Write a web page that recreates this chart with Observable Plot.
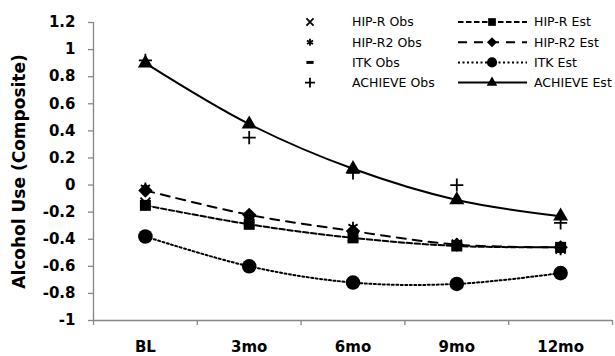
<!DOCTYPE html>
<html>
<head>
<meta charset="utf-8">
<script src="https://cdn.jsdelivr.net/npm/d3@7"></script>
<script src="https://cdn.jsdelivr.net/npm/@observablehq/plot@0.6"></script>
<style>
  html, body { margin: 0; padding: 0; background: #fff; }
  #chart { position: relative; width: 615px; height: 356px; }
  .tick-bold text { font-weight: bold; }
</style>
</head>
<body>
<div id="chart"></div>
<script>
const categories = ["BL", "3mo", "6mo", "9mo", "12mo"];
const yTicks = [-1, -0.8, -0.6, -0.4, -0.2, 0, 0.2, 0.4, 0.6, 0.8, 1, 1.2];

const hipREst   = [-0.15, -0.29, -0.39, -0.45, -0.46];
const hipRObs   = [-0.13, -0.27, -0.38, -0.44, -0.47];
const hipR2Est  = [-0.04, -0.22, -0.34, -0.44, -0.46];
const hipR2Obs  = [-0.02, -0.23, -0.31, -0.43, -0.48];
const itkEst    = [-0.38, -0.60, -0.72, -0.73, -0.65];
const itkObs    = [-0.38, -0.60, -0.72, -0.74, -0.65];
const achieveEst = [0.90, 0.45, 0.12, -0.11, -0.23];
const achieveObs = [0.92, 0.35, 0.09, 0.00, -0.28];

const obsLabels = ["HIP-R Obs", "HIP-R2 Obs", "ITK Obs", "ACHIEVE Obs"];
const estLabels = ["HIP-R Est", "HIP-R2 Est", "ITK Est", "ACHIEVE Est"];

const dashSymbol = {
  draw(context, size) {
    const r = Math.sqrt(size / Math.PI);
    context.moveTo(-r, 0);
    context.lineTo(r, 0);
  }
};

const series = [
  {est: hipREst, obs: hipRObs, dash: "5.5,2.5", estSym: "square", estR: 6.2, obsSym: "times", obsR: 4.6},
  {est: hipR2Est, obs: hipR2Obs, dash: "9,7", estSym: "diamond2", estR: 6.5, obsSym: "asterisk", obsR: 5},
  {est: itkEst, obs: itkObs, dash: "2,2.5", estSym: "circle", estR: 7.3, obsSym: dashSymbol, obsR: 4.5},
  {est: achieveEst, obs: achieveObs, dash: null, estSym: "triangle", estR: 5.6, obsSym: "plus", obsR: 4.3}
];

const rows = (arr, s, k) => arr.map((v, i) => ({s: k, cat: categories[i], v}));
const pos = d => categories.indexOf(d.cat) + 0.5;

const gray = "#868686";
const marks = [];
series.forEach((s, k) => {
  const est = rows(s.est, s, k);
  const obs = rows(s.obs, s, k);
  marks.push(Plot.line(est, {x: pos, y: "v", curve: "catmull-rom", stroke: "black", strokeWidth: 2, strokeDasharray: s.dash || undefined}));
  marks.push(Plot.dot(est, {x: pos, y: "v", symbol: () => s.estSym, r: s.estR, fill: "black", stroke: "none"}));
  marks.push(Plot.dot(obs, {x: pos, y: "v", symbol: () => s.obsSym, r: s.obsR, fill: "none", stroke: "black", strokeWidth: s.obsSym === dashSymbol ? 3 : 1.8}));
});

const fmt = v => String(+v.toFixed(1));

const plot = Plot.plot({
  width: 615,
  height: 356,
  marginLeft: 93,
  marginRight: 3,
  marginTop: 22,
  marginBottom: 36,
  style: {fontFamily: "DejaVu Sans", fontSize: "15px", color: "black", background: "white"},
  x: {type: "linear", domain: [0, categories.length]},
  y: {domain: [-1, 1.2]},
  symbol: {type: "identity"},
  marks: [
    Plot.ruleX([0], {stroke: gray, strokeWidth: 1.3}),
    Plot.ruleY([-1], {stroke: gray, strokeWidth: 1.3}),
    Plot.axisY({ticks: yTicks, tickFormat: fmt, tickSize: 5, tickPadding: 13, stroke: gray, strokeWidth: 1.3, fontWeight: "bold", fontSize: 15, label: null, className: "tick-bold"}),
    Plot.axisX({ticks: d3.range(categories.length + 1), tickFormat: () => "", tickSize: 5, stroke: gray, strokeWidth: 1.3, label: null}),
    Plot.axisX({ticks: categories.map((c, i) => i + 0.5), tickFormat: v => categories[Math.floor(v)], tickSize: 0, tickPadding: 21, fontWeight: "bold", fontSize: 15, label: null}),
    Plot.text(["Alcohol Use (Composite)"], {frameAnchor: "left", rotate: -90, dx: -74, textAnchor: "middle", lineAnchor: "middle", fontWeight: "bold", fontSize: 17}),
    ...marks
  ]
});

document.getElementById("chart").appendChild(plot);

// Legend
const svg = d3.select(plot);
const lg = svg.append("g").attr("font-family", "DejaVu Sans").attr("font-size", 12.5).attr("text-anchor", "start");
const rowY = i => 22 + i * 20.2;
const symbolOf = s => {
  const map = {square: d3.symbolSquare, diamond2: d3.symbolDiamond2, circle: d3.symbolCircle, triangle: d3.symbolTriangle,
               times: d3.symbolTimes, asterisk: d3.symbolAsterisk, plus: d3.symbolPlus};
  return typeof s === "string" ? map[s] : s;
};
series.forEach((s, i) => {
  const y = rowY(i);
  const obsIsDash = s.obsSym === dashSymbol;
  lg.append("path")
    .attr("transform", `translate(310,${y})`)
    .attr("d", d3.symbol(symbolOf(s.obsSym), obsIsDash ? 40 : Math.PI * 3.3 * 3.3)())
    .attr("fill", "none").attr("stroke", "black").attr("stroke-width", obsIsDash ? 3 : 1.8);
  lg.append("text").attr("x", 352).attr("y", y).attr("dy", "0.35em").attr("text-anchor", "start").text(obsLabels[i]);
  lg.append("line").attr("x1", 458).attr("x2", 527).attr("y1", y).attr("y2", y)
    .attr("stroke", "black").attr("stroke-width", 2)
    .attr("stroke-dasharray", s.dash || null);
  lg.append("path")
    .attr("transform", `translate(492,${y})`)
    .attr("d", d3.symbol(symbolOf(s.estSym), Math.PI * (s.estR * 0.7) ** 2)())
    .attr("fill", "black");
  lg.append("text").attr("x", 534).attr("y", y).attr("dy", "0.35em").attr("text-anchor", "start").text(estLabels[i]);
});
</script>
</body>
</html>
